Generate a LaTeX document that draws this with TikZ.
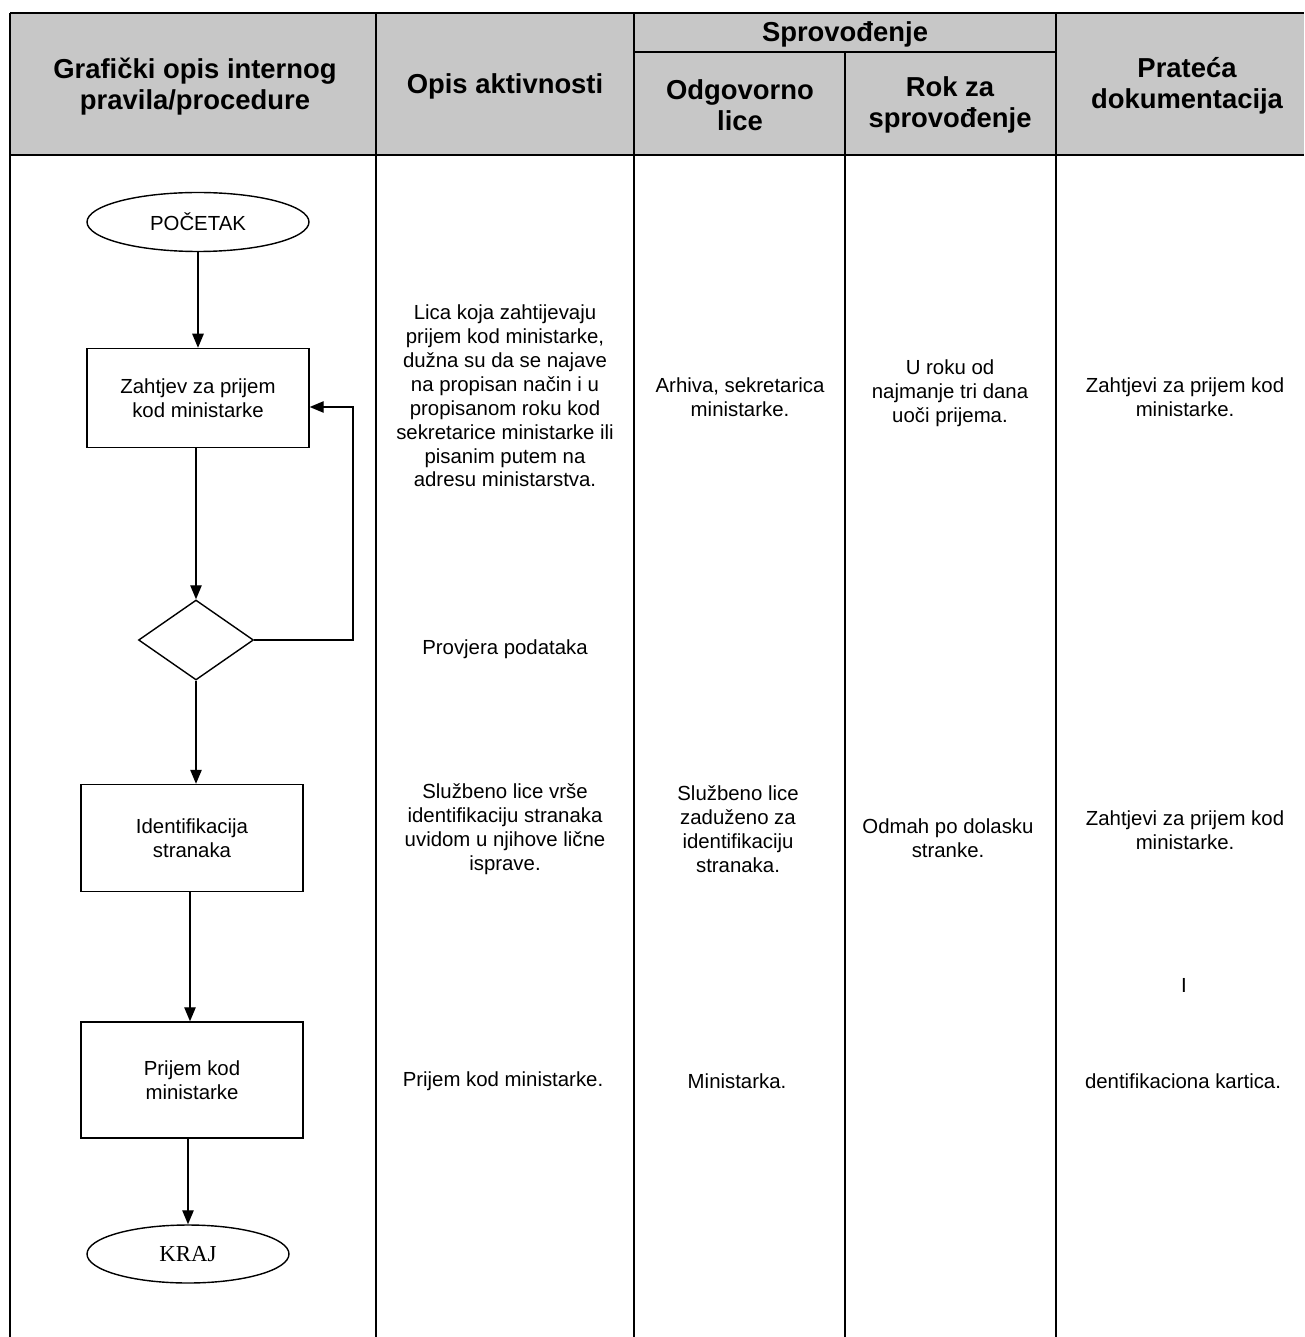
\documentclass[tikz,border=0pt]{standalone}
\usepackage{fontspec}
\setmainfont{Liberation Sans}
\newfontfamily\krajfont{Liberation Serif}
\usetikzlibrary{arrows.meta,positioning,shapes.geometric}

\begin{document}
\begin{tikzpicture}[
  x=0.02cm, y=-0.02cm,
  head/.style={font=\fontsize{15.6}{17.6}\selectfont\bfseries, align=center},
  cell/.style={font=\fontsize{11.6}{13.6}\selectfont, align=center},
  grid/.style={line width=1.1pt},
  term/.style={draw, ellipse, line width=0.8pt, inner sep=0pt, font=\fontsize{11.6}{13.6}\selectfont},
  proc/.style={draw, line width=0.8pt, minimum width=4.44cm, align=center, font=\fontsize{11.6}{13.6}\selectfont},
  check/.style={draw, diamond, line width=0.8pt, inner sep=0pt, minimum width=2.3cm, minimum height=1.6cm},
  arrow/.style={-{Triangle[length=8pt,width=6.5pt]}, line width=0.8pt}
]
\useasboundingbox (0,0) rectangle (1304,1337);

% table
\fill[black!22] (10,13) rectangle (1304,155);
\draw[grid] (10,13) -- (1304,13);
\draw[grid] (10,155) -- (1304,155);
\draw[grid] (634,52) -- (1056,52);
\foreach \x in {10,376,634,1056}
  \draw[grid] (\x,13) -- (\x,1337);
\draw[grid] (845,52) -- (845,1337);

% header
\node[head] (hgraf) at (195,87) {Grafički opis internog\\pravila/procedure};
\node[head] (hopis) at (505,86) {Opis aktivnosti};
\node[head] (hsprov) at (845,34) {Sprovođenje};
\node[head] (hlice) at (740,105) {Odgovorno\\lice};
\node[head] (hrok) at (950,105) {Rok za\\sprovođenje};
\node[head] (hdok) at (1187,86) {Prateća\\dokumentacija};

% flowchart
\node[term, minimum width=4.44cm, minimum height=1.18cm] (start) at (198,222) {POČETAK};
\node[proc, minimum height=1.98cm] (req) at (198,398) {Zahtjev za prijem\\kod ministarke};
\node[check] (check) at (196,640) {};
\node[proc, minimum height=2.14cm] (ident) at (192,838) {Identifikacija\\stranaka};
\node[proc, minimum height=2.32cm] (prijem) at (192,1080) {Prijem kod\\ministarke};
\node[term, minimum width=4.04cm, minimum height=1.16cm, font=\fontsize{13}{15}\krajfont] (kraj) at (188,1254) {KRAJ};

\draw[arrow] (start) -- (req);
\draw[arrow] (req.south -| check.north) -- (check.north);
\draw[arrow] (check.east) -- ++(99,0) |- ([yshift=-0.18cm]req.east);
\draw[arrow] (check.south) -- (check.south |- ident.north);
\draw[arrow] ([xshift=-0.04cm]ident.south) -- ([xshift=-0.04cm]prijem.north);
\draw[arrow] (prijem.south -| kraj.north) -- (kraj.north);

% opis aktivnosti
\node[cell] (opis1) at (505,396) {Lica koja zahtijevaju\\prijem kod ministarke,\\dužna su da se najave\\na propisan način i u\\propisanom roku kod\\sekretarice ministarke ili\\pisanim putem na\\adresu ministarstva.};
\node[cell] (opis2) at (505,649) {Provjera podataka};
\node[cell] (opis3) at (505,829) {Službeno lice vrše\\identifikaciju stranaka\\uvidom u njihove lične\\isprave.};
\node[cell] (opis4) at (503,1081) {Prijem kod ministarke.};

% odgovorno lice
\node[cell] (lice1) at (740,397) {Arhiva, sekretarica\\ministarke.};
\node[cell] (lice2) at (738,829) {Službeno lice\\zaduženo za\\identifikaciju\\stranaka.};
\node[cell] (lice3) at (737,1081) {Ministarka.};

% rok
\node[cell] (rok1) at (950,393) {U roku od\\najmanje tri dana\\uoči prijema.};
\node[cell] (rok2) at (948,838) {Odmah po dolasku\\stranke.};

% prateca dokumentacija
\node[cell] (dok1) at (1185,397) {Zahtjevi za prijem kod\\ministarke.};
\node[cell] (dok2) at (1185,830) {Zahtjevi za prijem kod\\ministarke.};
\node[cell] (dok3) at (1184,985) {I};
\node[cell] (dok4) at (1183,1081) {dentifikaciona kartica.};
\end{tikzpicture}
\end{document}
